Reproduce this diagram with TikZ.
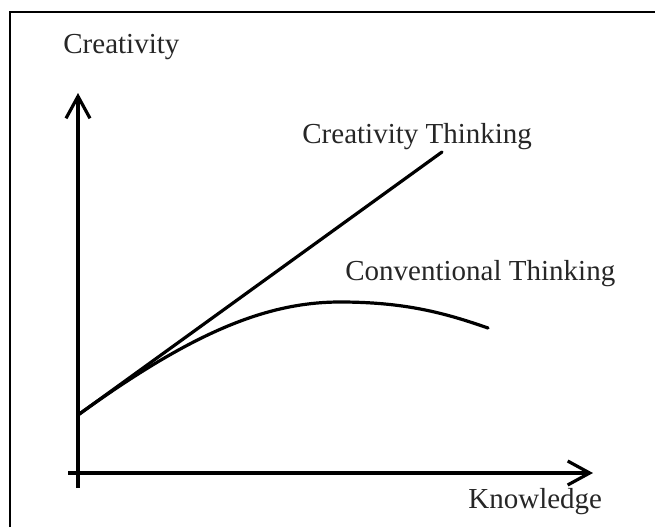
\documentclass[tikz,border=0pt]{standalone}
\usepackage{fontspec}
\setmainfont{Liberation Serif}
\usetikzlibrary{arrows.meta}

\begin{document}
\begin{tikzpicture}[x=0.5pt, y=-0.5pt,
        axis/.style={line width=1.6pt, -{Straight Barb[length=11pt, width=12pt, line width=1.6pt]}},
        curve/.style={line width=1.6pt, line cap=round},
        lbl/.style={inner sep=0pt, anchor=base west, font=\fontsize{14.5}{17}\selectfont, text=black!85}]
    \useasboundingbox (0,0) rectangle (655,527);

    % frame
    \draw[line width=1pt] (10,527) -- (10,12) -- (655,12);

    % axes
    \coordinate (ybot) at (78,488);
    \coordinate (ytip) at (78,93);
    \coordinate (xleft) at (68,473);
    \coordinate (xtip) at (593,473);
    \draw[axis] (ybot) -- (ytip);
    \draw[axis] (xleft) -- (xtip);

    \node[lbl] (ylabel) at (63,53) {Creativity};
    \node[lbl] (xlabel) at (468,508) {Knowledge};

    % both curves start at the same point
    \coordinate (start) at (78,415);
    \coordinate (ctend) at (442,152);
    \coordinate (peak) at (340,302);
    \coordinate (cvend) at (488,328);

    \draw[curve] (start) -- (ctend);
    \draw[curve] (start) .. controls (190,334) and (265,302) .. (peak)
        .. controls (405,302) and (445,313) .. (cvend);

    \node[lbl] (creative) at (302,143) {Creativity Thinking};
    \node[lbl] (convent) at (345,280) {Conventional Thinking};
\end{tikzpicture}
\end{document}
